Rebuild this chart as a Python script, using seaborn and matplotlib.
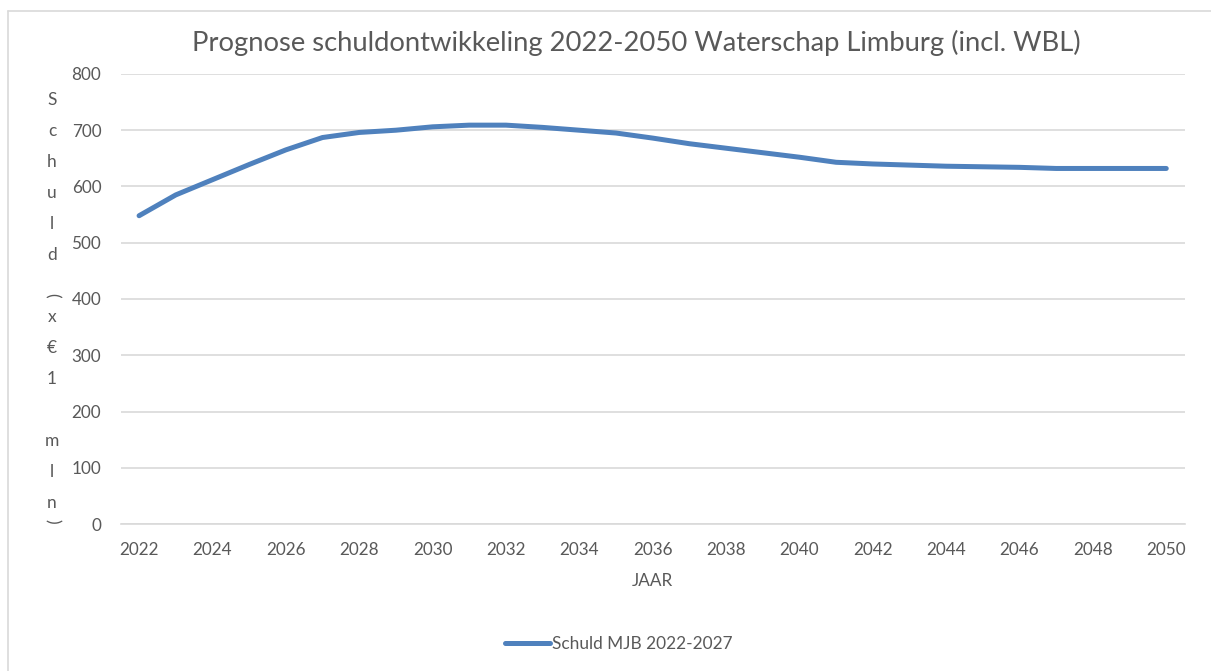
import matplotlib
matplotlib.use("Agg")
import matplotlib.pyplot as plt
from matplotlib.lines import Line2D
import seaborn as sns
import pandas as pd

# data (schuld in mln euro)
jaren = list(range(2022, 2051))
schuld = [548, 585, 612, 639, 665, 687, 696, 700, 706, 709,
          709, 705, 700, 695, 686, 676, 668, 660, 652, 643,
          640, 638, 636, 635, 634, 632, 632, 632, 632]
reeks = "Schuld MJB 2022-2027"
y_ticks = [0, 100, 200, 300, 400, 500, 600, 700, 800]
x_ticks = list(range(2022, 2051, 2))

df = pd.DataFrame({"jaar": jaren, "schuld": schuld})

sns.set_style("white")
plt.rcParams["font.family"] = ["Lato", "DejaVu Sans"]

grijs = "#595959"
blauw = "#4F81BD"

fig = plt.figure(figsize=(12.11, 6.71), dpi=100)
ax = fig.add_axes([0.0997, 0.219, 0.8785, 0.6708])

sns.lineplot(data=df, x="jaar", y="schuld", ax=ax, color=blauw,
             linewidth=3.6, solid_capstyle="round", solid_joinstyle="round",
             zorder=3)

ax.set_xlim(2021.5, 2050.5)
ax.set_ylim(0, 800)
ax.set_xticks(x_ticks)
ax.set_yticks(y_ticks)
ax.tick_params(axis="both", length=0, labelsize=12.3, colors=grijs)
ax.tick_params(axis="x", pad=13)
ax.tick_params(axis="y", pad=14)
ax.grid(axis="y", color="#D9D9D9", linewidth=1.2)
for s in ["top", "right", "left"]:
    ax.spines[s].set_visible(False)
ax.spines["bottom"].set_color("#D9D9D9")
ax.spines["bottom"].set_linewidth(1.2)

ax.set_xlabel("JAAR", fontsize=12.3, color=grijs, labelpad=10.5)
ax.set_ylabel("")

fig.text(0.5256, 1 - 43 / 671, "Prognose schuldontwikkeling 2022-2050 Waterschap Limburg (incl. WBL)",
         ha="center", va="center", fontsize=19.7, color=grijs)

# stacked vertical axis title, one character per line
tekens = "Schuld(x€1 mln)"
for i, t in enumerate(tekens):
    ypix = 100 + i * 31
    rot = 0
    if t == "(":
        ypix, rot = 295, -90
    elif t == ")":
        ypix, rot = 521, -90
    fig.text(52 / 1211, 1 - ypix / 671, t, ha="center", va="center",
             fontsize=12.5, color=grijs, rotation=rot)

# legend at bottom
leg = fig.legend(handles=[Line2D([0], [0], color=blauw, linewidth=3.6,
                                 solid_capstyle="round")],
                 labels=[reeks], loc="center", bbox_to_anchor=(0.511, 1 - 644 / 671),
                 frameon=False, fontsize=12.4, handlelength=2.6, handletextpad=0.1,
                 labelcolor=grijs)

# chart area border (only top and left visible in the crop)
fig.add_artist(Line2D([8 / 1211, 8 / 1211], [0, 1 - 11 / 671], color="#D9D9D9",
                      linewidth=1.2, transform=fig.transFigure))
fig.add_artist(Line2D([8 / 1211, 1], [1 - 11 / 671, 1 - 11 / 671], color="#D9D9D9",
                      linewidth=1.2, transform=fig.transFigure))

fig.savefig("out.png", dpi=100, facecolor="white")
